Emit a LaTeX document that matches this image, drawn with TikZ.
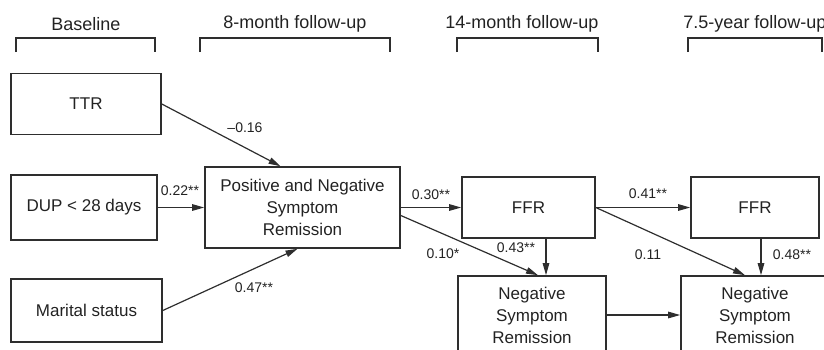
\documentclass[tikz,border=0pt]{standalone}
\usepackage{fontspec}
\setmainfont{Liberation Sans}
\usepackage{tikz}
\usetikzlibrary{arrows.meta, positioning}
\definecolor{linegray}{HTML}{2e2e2e}
\definecolor{darktext}{HTML}{222222}

\begin{document}
\begin{tikzpicture}[x=1pt, y=-1pt,
		varbox/.style={draw=linegray, line width=1.6pt, inner sep=0pt, align=center,
			text=darktext, font=\fontsize{17}{22}\selectfont},
		coef/.style={inner sep=0pt, text=darktext, font=\fontsize{14}{16}\selectfont},
		head/.style={inner sep=0pt, text=darktext, font=\fontsize{18}{20}\selectfont},
		link/.style={draw=linegray, line width=1.2pt, -{Triangle[length=12pt, width=6.5pt]}},
		bracket/.style={draw=linegray, line width=1.6pt}]
	\useasboundingbox (0,0) rectangle (824,349);
	\clip (0,0) rectangle (824,349);

	% time points
	\foreach \l/\r/\c/\t [count=\i] in {16/155/86/Baseline, 200/390/295/8-month follow-up,
			457/598/522/14-month follow-up, 688/822/755/7.5-year follow-up}{
		\node[head] (hd\i) at (\c,24) {\t};
		\draw[bracket] (\l,52) -- (\l,38) -- (\r,38) -- (\r,52);
	}

	% variables
	\node[varbox, minimum width=150pt, minimum height=61pt] (ttr) at (86,104) {TTR};
	\node[varbox, minimum width=146pt, minimum height=65pt] (dup) at (84,207.5) {DUP < 28 days};
	\node[varbox, minimum width=151pt, minimum height=63pt] (marital) at (86.5,310.5) {Marital status};
	\node[varbox, minimum width=195pt, minimum height=81pt] (psr) at (302.5,207.5)
		{Positive and Negative\\Symptom\\Remission};
	\node[varbox, minimum width=133pt, minimum height=61pt] (ffra) at (528.5,207.5) {FFR};
	\node[varbox, minimum width=128pt, minimum height=61pt] (ffrb) at (755,207.5) {FFR};
	\node[varbox, minimum width=148pt, minimum height=78pt] (nsra) at (532,315)
		{Negative\\Symptom\\Remission};
	\node[varbox, minimum width=148pt, minimum height=78pt] (nsrb) at (755,315)
		{Negative\\Symptom\\Remission};

	% paths
	\draw[link] (ttr.east) -- ([xshift=-22pt]psr.north);
	\draw[link] (dup) -- (psr);
	\draw[link] (marital.east) -- ([xshift=-5pt]psr.south);
	\draw[link] (psr) -- (ffra);
	\draw[link] ([yshift=-8pt]psr.east) -- ([xshift=6pt]nsra.north);
	\draw[link] ([xshift=17.5pt]ffra.south) -- ([xshift=17.5pt]ffra.south |- nsra.north);
	\draw[link] (ffra) -- (ffrb);
	\draw[link] (ffra.east) -- ([xshift=-10pt]nsrb.north);
	\draw[link] ([xshift=6pt]ffrb.south) -- ([xshift=6pt]ffrb.south |- nsrb.north);
	\draw[link] (nsra) -- (nsrb);

	% coefficients
	\node[coef] (c1) at (245,127.5) {–0.16};
	\node[coef] (c2) at (180,191) {0.22**};
	\node[coef] (c3) at (254,287.5) {0.47**};
	\node[coef] (c4) at (431,194.5) {0.30**};
	\node[coef] (c5) at (648,194) {0.41**};
	\node[coef] (c6) at (443,254) {0.10*};
	\node[coef] (c7) at (516,247.5) {0.43**};
	\node[coef] (c8) at (648,255) {0.11};
	\node[coef] (c9) at (792,255) {0.48**};
\end{tikzpicture}
\end{document}
